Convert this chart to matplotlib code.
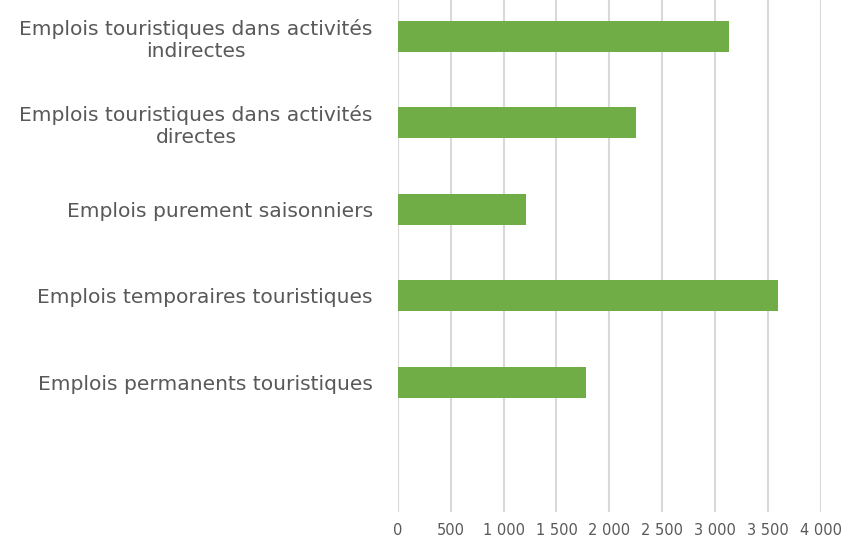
import matplotlib.pyplot as plt

categories = [
    "Emplois touristiques dans activités\nindirectes",
    "Emplois touristiques dans activités\ndirectes",
    "Emplois purement saisonniers",
    "Emplois temporaires touristiques",
    "Emplois permanents touristiques",
    "",
]
values = [3135, 2250, 1210, 3595, 1775, 0]
xticks = [0, 500, 1000, 1500, 2000, 2500, 3000, 3500, 4000]
xlabels = ["0", "500", "1 000", "1 500", "2 000", "2 500", "3 000", "3 500", "4 000"]

plt.rcParams['font.family'] = ['DejaVu Sans']

fig = plt.figure(figsize=(8.56, 5.38), dpi=100)
ax = fig.add_axes([397.7 / 856, 1 - 512 / 538, (821 - 397.7) / 856, 512 / 538])

n = len(categories)
ypos = [n - 1 - i for i in range(n)]
ax.barh(ypos, values, height=0.355, color='#70ad47', zorder=3)

ax.set_xlim(0, 4000)
ax.set_ylim(-0.5, n - 0.5 - 7 / 86.5)
ax.set_xticks(xticks)
ax.set_xticklabels(xlabels)
ax.set_yticks(ypos)
ax.set_yticklabels(categories, linespacing=1.2)
for lab in ax.get_yticklabels():
    lab.set_multialignment('center')

ax.grid(axis='x', color='#d9d9d9', linewidth=1.5, zorder=0)
for s in ax.spines.values():
    s.set_visible(False)
ax.tick_params(axis='y', length=0, pad=18, labelsize=14.6, labelcolor='#595959')
ax.tick_params(axis='x', length=0, pad=8, labelsize=10.5, labelcolor='#595959')

fig.savefig('out.png', dpi=100)
